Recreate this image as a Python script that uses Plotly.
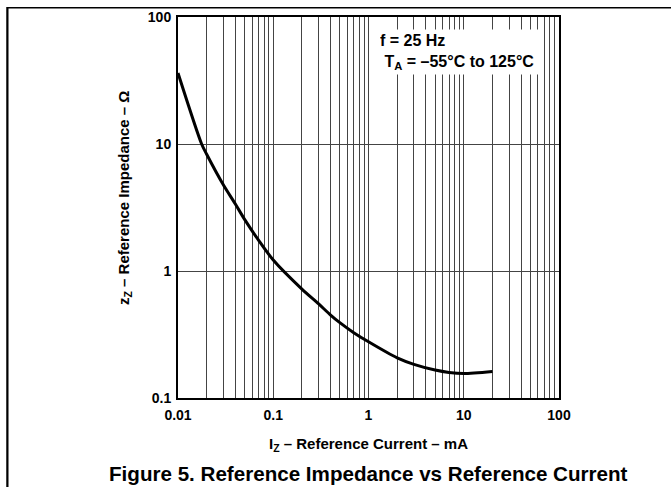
import plotly.graph_objects as go

# Data (log-log curve)
iz_ma = [0.01, 0.0177, 0.02, 0.03, 0.04, 0.05, 0.07, 0.1, 0.2, 0.3, 0.4, 0.5, 0.7,
         1, 2, 3, 5, 7, 10, 20]
zz_ohm = [36.2, 10.0, 8.3, 4.75, 3.37, 2.55, 1.75, 1.22, 0.72, 0.55, 0.45, 0.392, 0.327,
          0.277, 0.207, 0.184, 0.166, 0.159, 0.156, 0.162]

x_decades = [0.01, 0.1, 1, 10, 100]
x_tick_labels = ["0.01", "0.1", "1", "10", "100"]
y_decades = [0.1, 1, 10, 100]
y_tick_labels = ["0.1", "1", "10", "100"]

# minor grid values 2..9 per decade for x
x_minor = []
for d in x_decades[:-1]:
    for m in range(2, 10):
        x_minor.append(round(d * m, 6))

FONT = "Arial, Liberation Sans, sans-serif"
GRID = "#444444"

fig = go.Figure()
fig.add_trace(go.Scatter(
    x=iz_ma, y=zz_ohm, mode="lines",
    line=dict(color="black", width=3, shape="spline", smoothing=0.8),
    showlegend=False, hoverinfo="skip"))

W, H = 671, 487
L, R, T, B = 178, 559, 17, 398
pw, ph = R - L, B - T

def px(xp):
    return (xp - L) / pw

def py(yp):
    return (B - yp) / ph

fig.update_layout(
    width=W, height=H,
    margin=dict(l=L, r=W - R, t=T, b=H - B, pad=0, autoexpand=False),
    paper_bgcolor="white", plot_bgcolor="white",
    font=dict(family=FONT, color="black"),
    xaxis=dict(type="log", range=[-2, 2], tickmode="array",
               tickvals=x_decades, ticktext=x_tick_labels,
               showgrid=True, gridcolor=GRID, gridwidth=1,
               minor=dict(tickmode="array", tickvals=x_minor, showgrid=True,
                          gridcolor=GRID, gridwidth=1, ticks=""),
               showline=True, linecolor="black", linewidth=2, mirror=True,
               ticks="", zeroline=False, automargin=False, ticklabelstandoff=3,
               tickfont=dict(family=FONT, size=14, color="black", weight="bold")),
    yaxis=dict(type="log", range=[-1, 2], tickmode="array",
               tickvals=y_decades, ticktext=y_tick_labels,
               showgrid=True, gridcolor=GRID, gridwidth=1,
               showline=True, linecolor="black", linewidth=2, mirror=True,
               ticks="", zeroline=False, automargin=False, ticklabelstandoff=2,
               tickfont=dict(family=FONT, size=14, color="black", weight="bold")),
    annotations=[
        dict(xref="paper", yref="paper", x=px(378), y=py(29), xanchor="left", yanchor="top",
             text="f = 25 Hz<br> T<sub>A</sub> = –55°C to 125°C", align="left",
             showarrow=False, bgcolor="white", borderpad=1, width=162, height=42,
             font=dict(family=FONT, size=16, color="black", weight="bold")),
        dict(xref="paper", yref="paper", x=px(368), y=py(444), xanchor="center", yanchor="middle",
             text="I<sub>Z</sub> – Reference Current – mA", showarrow=False,
             font=dict(family=FONT, size=15, color="black", weight="bold")),
        dict(xref="paper", yref="paper", x=px(124), y=py(198), xanchor="center", yanchor="middle",
             text="z<sub>Z</sub> – Reference Impedance – Ω", showarrow=False, textangle=-90,
             font=dict(family=FONT, size=15, color="black", weight="bold")),
        dict(xref="paper", yref="paper", x=px(368), y=py(473), xanchor="center", yanchor="middle",
             text="Figure 5. Reference Impedance vs Reference Current", showarrow=False,
             font=dict(family=FONT, size=20.6, color="black", weight="bold")),
        # outer page frame: top and left edges visible
        dict(xref="paper", yref="paper", x=px(7), y=py(7), xanchor="left", yanchor="top",
             text=" ", showarrow=False, width=720, height=520, borderpad=0,
             bordercolor="black", borderwidth=1.5, bgcolor="rgba(0,0,0,0)"),
    ],
    shapes=[
        dict(type="line", xref="paper", yref="paper",
             x0=px(7), x1=px(7), y0=py(7), y1=py(487),
             line=dict(color="black", width=1.5), layer="above"),
    ],
)

fig.write_html(
    "out.html",
    config={"displayModeBar": False},
    post_script="document.body.style.margin='0px';document.body.style.padding='0px';",
)
